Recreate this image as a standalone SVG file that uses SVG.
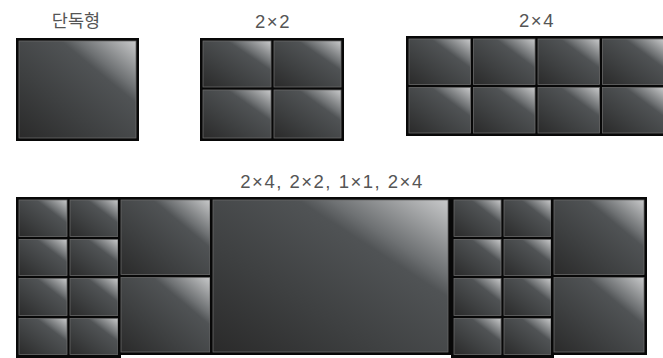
<svg xmlns="http://www.w3.org/2000/svg" width="663" height="358" viewBox="0 0 663 358">
<defs>
<linearGradient id="g" x1="0" y1="1" x2="1" y2="0">
<stop offset="0" stop-color="#2a2a2a"/>
<stop offset="0.35" stop-color="#3e4041"/>
<stop offset="0.68" stop-color="#505355"/>
<stop offset="0.75" stop-color="#6e7173"/>
<stop offset="1" stop-color="#c8c9ca"/>
</linearGradient>
</defs>
<style>
.f{fill:#080808}
.c{fill:url(#g);stroke:#6a6a6a;stroke-width:0.8}
.t{font-family:"Liberation Sans","Noto Sans CJK KR",Arial,sans-serif;font-size:18.5px;letter-spacing:1.5px;fill:#555;text-anchor:middle}
.k{font-family:"Noto Sans CJK KR","Liberation Sans",sans-serif;font-size:17.5px;fill:#555;text-anchor:middle}
</style>
<rect width="663" height="358" fill="#fff"/>

<g id="single">
<text class="k" x="76" y="27">단독형</text>
<rect class="f" x="16" y="38" width="123" height="103"/>
<rect class="c" x="19" y="41" width="117" height="97"/>
</g>

<g id="grid2x2">
<text class="t" x="273" y="28">2×2</text>
<rect class="f" x="200" y="38" width="144" height="103"/>
<rect class="c" x="203" y="41" width="68" height="46"/>
<rect class="c" x="274" y="41" width="67" height="46"/>
<rect class="c" x="203" y="90" width="68" height="48"/>
<rect class="c" x="274" y="90" width="67" height="48"/>
</g>

<g id="grid2x4">
<text class="t" x="537" y="27">2×4</text>
<rect class="f" x="406" y="36" width="261" height="100"/>
<rect class="c" x="409" y="39" width="61.5" height="45.5"/>
<rect class="c" x="473.5" y="39" width="61.5" height="45.5"/>
<rect class="c" x="538" y="39" width="61.5" height="45.5"/>
<rect class="c" x="602.5" y="39" width="61.5" height="45.5"/>
<rect class="c" x="409" y="87.5" width="61.5" height="45.5"/>
<rect class="c" x="473.5" y="87.5" width="61.5" height="45.5"/>
<rect class="c" x="538" y="87.5" width="61.5" height="45.5"/>
<rect class="c" x="602.5" y="87.5" width="61.5" height="45.5"/>
</g>

<g id="combo">
<text class="t" x="332" y="188">2×4, 2×2, 1×1, 2×4</text>
<g id="combo-left2x4">
<rect class="f" x="16" y="197" width="105" height="161"/>
<rect class="c" x="19" y="200" width="48" height="36.5"/>
<rect class="c" x="70" y="200" width="48" height="36.5"/>
<rect class="c" x="19" y="239.5" width="48" height="36"/>
<rect class="c" x="70" y="239.5" width="48" height="36"/>
<rect class="c" x="19" y="278.5" width="48" height="37"/>
<rect class="c" x="70" y="278.5" width="48" height="37"/>
<rect class="c" x="19" y="318.5" width="48" height="36"/>
<rect class="c" x="70" y="318.5" width="48" height="36"/>
</g>
<g id="combo-left2x2">
<rect class="f" x="118" y="197" width="95" height="158"/>
<rect class="c" x="121" y="200" width="89" height="74.5"/>
<rect class="c" x="121" y="277.5" width="89" height="74.5"/>
</g>
<g id="combo-1x1">
<rect class="f" x="210" y="197" width="241" height="158"/>
<rect class="c" x="213" y="200" width="235" height="152"/>
</g>
<g id="combo-right2x4">
<rect class="f" x="451" y="197" width="103" height="161"/>
<rect class="c" x="454" y="200" width="47" height="36.5"/>
<rect class="c" x="504" y="200" width="47" height="36.5"/>
<rect class="c" x="454" y="239.5" width="47" height="36"/>
<rect class="c" x="504" y="239.5" width="47" height="36"/>
<rect class="c" x="454" y="278.5" width="47" height="37"/>
<rect class="c" x="504" y="278.5" width="47" height="37"/>
<rect class="c" x="454" y="318.5" width="47" height="36"/>
<rect class="c" x="504" y="318.5" width="47" height="36"/>
</g>
<g id="combo-right2x2">
<rect class="f" x="551" y="197" width="96" height="158"/>
<rect class="c" x="554" y="200" width="90" height="74.5"/>
<rect class="c" x="554" y="277.5" width="90" height="74.5"/>
</g>
</g>
</svg>
